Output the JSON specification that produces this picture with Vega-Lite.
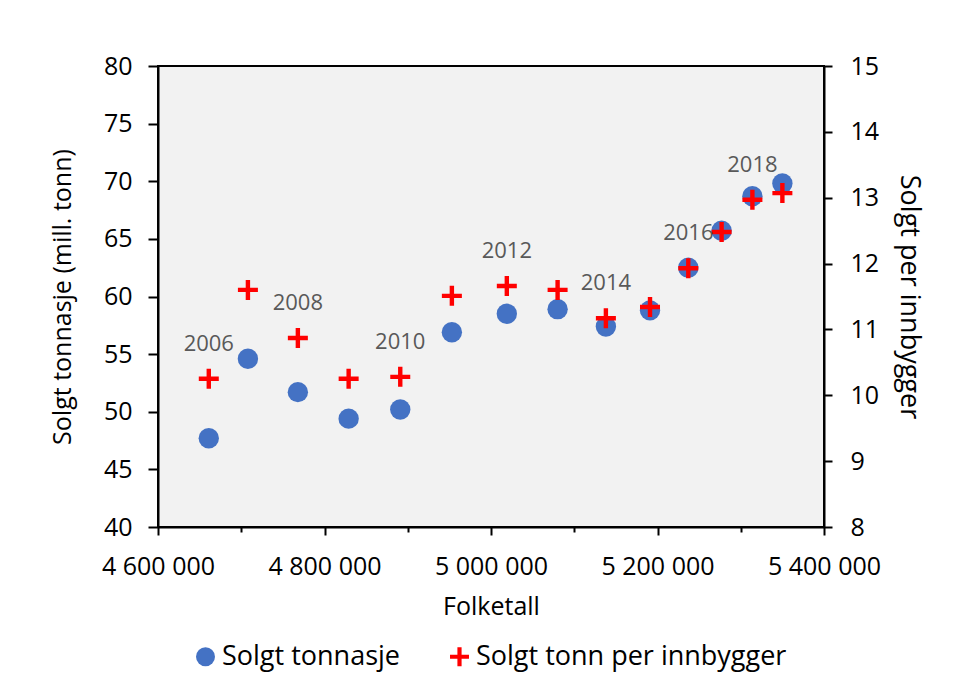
{
  "$schema": "https://vega.github.io/schema/vega-lite/v6.json",
  "width": 666,
  "height": 461,
  "autosize": {"type": "none"},
  "padding": {"left": 158, "top": 66, "right": 133, "bottom": 167},
  "background": "white",
  "config": {
    "font": "Open Sans",
    "locale": {"number": {"decimal": ",", "thousands": " ", "grouping": [3], "currency": ["", " kr"]}},
    "view": {"fill": "#F2F2F2", "stroke": "black", "strokeWidth": 2},
    "axis": {
      "domainColor": "black", "domainWidth": 2, "tickColor": "black", "tickWidth": 2,
      "labelFont": "Open Sans", "labelFontSize": 25, "labelColor": "#000000",
      "titleFont": "Open Sans", "titleFontSize": 25, "titleFontWeight": "normal", "titleColor": "#000000",
      "grid": false
    },
    "legend": {"symbolOpacity": 1}
  },
  "data": {
    "values": [
      {"aar": 2006, "folketall": 4661000, "serie": "Solgt tonnasje", "verdi": 47.7},
      {"aar": 2007, "folketall": 4708000, "serie": "Solgt tonnasje", "verdi": 54.6},
      {"aar": 2008, "folketall": 4768000, "serie": "Solgt tonnasje", "verdi": 51.7},
      {"aar": 2009, "folketall": 4829000, "serie": "Solgt tonnasje", "verdi": 49.4},
      {"aar": 2010, "folketall": 4891000, "serie": "Solgt tonnasje", "verdi": 50.2},
      {"aar": 2011, "folketall": 4953000, "serie": "Solgt tonnasje", "verdi": 56.9},
      {"aar": 2012, "folketall": 5019000, "serie": "Solgt tonnasje", "verdi": 58.5},
      {"aar": 2013, "folketall": 5080000, "serie": "Solgt tonnasje", "verdi": 58.9},
      {"aar": 2014, "folketall": 5138000, "serie": "Solgt tonnasje", "verdi": 57.4},
      {"aar": 2015, "folketall": 5191000, "serie": "Solgt tonnasje", "verdi": 58.8},
      {"aar": 2016, "folketall": 5237000, "serie": "Solgt tonnasje", "verdi": 62.5},
      {"aar": 2017, "folketall": 5277000, "serie": "Solgt tonnasje", "verdi": 65.7},
      {"aar": 2018, "folketall": 5314000, "serie": "Solgt tonnasje", "verdi": 68.7},
      {"aar": 2019, "folketall": 5350000, "serie": "Solgt tonnasje", "verdi": 69.8},
      {"aar": 2006, "folketall": 4661000, "serie": "Solgt tonn per innbygger", "verdi": 10.25},
      {"aar": 2007, "folketall": 4708000, "serie": "Solgt tonn per innbygger", "verdi": 11.6},
      {"aar": 2008, "folketall": 4768000, "serie": "Solgt tonn per innbygger", "verdi": 10.87},
      {"aar": 2009, "folketall": 4829000, "serie": "Solgt tonn per innbygger", "verdi": 10.25},
      {"aar": 2010, "folketall": 4891000, "serie": "Solgt tonn per innbygger", "verdi": 10.28},
      {"aar": 2011, "folketall": 4953000, "serie": "Solgt tonn per innbygger", "verdi": 11.51},
      {"aar": 2012, "folketall": 5019000, "serie": "Solgt tonn per innbygger", "verdi": 11.66},
      {"aar": 2013, "folketall": 5080000, "serie": "Solgt tonn per innbygger", "verdi": 11.6},
      {"aar": 2014, "folketall": 5138000, "serie": "Solgt tonn per innbygger", "verdi": 11.17},
      {"aar": 2015, "folketall": 5191000, "serie": "Solgt tonn per innbygger", "verdi": 11.34},
      {"aar": 2016, "folketall": 5237000, "serie": "Solgt tonn per innbygger", "verdi": 11.93},
      {"aar": 2017, "folketall": 5277000, "serie": "Solgt tonn per innbygger", "verdi": 12.48},
      {"aar": 2018, "folketall": 5314000, "serie": "Solgt tonn per innbygger", "verdi": 12.97},
      {"aar": 2019, "folketall": 5350000, "serie": "Solgt tonn per innbygger", "verdi": 13.07}
    ]
  },
  "encoding": {
    "x": {
      "field": "folketall", "type": "quantitative",
      "scale": {"domain": [4600000, 5400000], "nice": false, "zero": false},
      "axis": {
        "title": "Folketall",
        "values": [4600000, 4700000, 4800000, 4900000, 5000000, 5100000, 5200000, 5300000, 5400000],
        "labelExpr": "datum.value % 200000 === 0 ? format(datum.value, ',.0f') : ''",
        "tickSize": {"condition": {"test": "datum.value % 200000 === 0", "value": 8}, "value": 5},
        "labelPadding": 19,
        "labelFlush": false,
        "labelOverlap": false,
        "titlePadding": 15
      }
    }
  },
  "layer": [
    {
      "transform": [{"filter": "datum.serie === 'Solgt tonnasje'"}],
      "mark": {"type": "point", "filled": true, "size": 415, "opacity": 1},
      "encoding": {
        "y": {
          "field": "verdi", "type": "quantitative",
          "scale": {"domain": [40, 80], "nice": false, "zero": false},
          "axis": {"orient": "left", "title": "Solgt tonnasje (mill. tonn)", "values": [40, 45, 50, 55, 60, 65, 70, 75, 80], "tickSize": 10, "labelPadding": 16, "titlePadding": 28}
        },
        "color": {
          "field": "serie", "type": "nominal",
          "scale": {"domain": ["Solgt tonnasje", "Solgt tonn per innbygger"], "range": ["#4472C4", "#FF0000"]},
          "legend": {"title": null, "orient": "none", "direction": "horizontal", "legendX": 34, "legendY": 577, "padding": 0, "labelFontSize": 27, "labelFont": "Open Sans", "labelColor": "#000000", "labelLimit": 0, "symbolSize": 360, "labelOffset": 3, "columnPadding": 46, "symbolStrokeWidth": 0}
        },
        "shape": {
          "field": "serie", "type": "nominal",
          "scale": {"domain": ["Solgt tonnasje", "Solgt tonn per innbygger"], "range": ["circle", "M-1,-0.22H-0.22V-1H0.22V-0.22H1V0.22H0.22V1H-0.22V0.22H-1Z"]},
          "legend": {"title": null, "orient": "none", "direction": "horizontal", "legendX": 34, "legendY": 577, "padding": 0, "labelFontSize": 27, "labelFont": "Open Sans", "labelColor": "#000000", "labelLimit": 0, "symbolSize": 360, "labelOffset": 3, "columnPadding": 46, "symbolStrokeWidth": 0}
        }
      }
    },
    {
      "transform": [{"filter": "datum.serie === 'Solgt tonn per innbygger'"}],
      "mark": {"type": "point", "filled": true, "size": 400, "opacity": 1},
      "encoding": {
        "y": {
          "field": "verdi", "type": "quantitative",
          "scale": {"domain": [8, 15], "nice": false, "zero": false},
          "axis": {"orient": "right", "title": "Solgt per innbygger", "titleFontSize": 27, "values": [8, 9, 10, 11, 12, 13, 14, 15], "tickSize": 8, "labelPadding": 18, "titlePadding": 16}
        },
        "color": {"field": "serie", "type": "nominal"},
        "shape": {"field": "serie", "type": "nominal"}
      }
    },
    {
      "transform": [{"filter": "datum.serie === 'Solgt tonn per innbygger' && datum.aar % 2 === 0"}],
      "mark": {"type": "text", "dy": -35, "fontSize": 22, "color": "#595959", "font": "Open Sans", "align": "center", "baseline": "middle"},
      "encoding": {
        "y": {"field": "verdi", "type": "quantitative", "scale": {"domain": [8, 15], "nice": false, "zero": false}, "axis": null},
        "text": {"field": "aar", "type": "nominal"}
      }
    }
  ],
  "resolve": {"scale": {"y": "independent"}, "axis": {"y": "independent"}}
}
